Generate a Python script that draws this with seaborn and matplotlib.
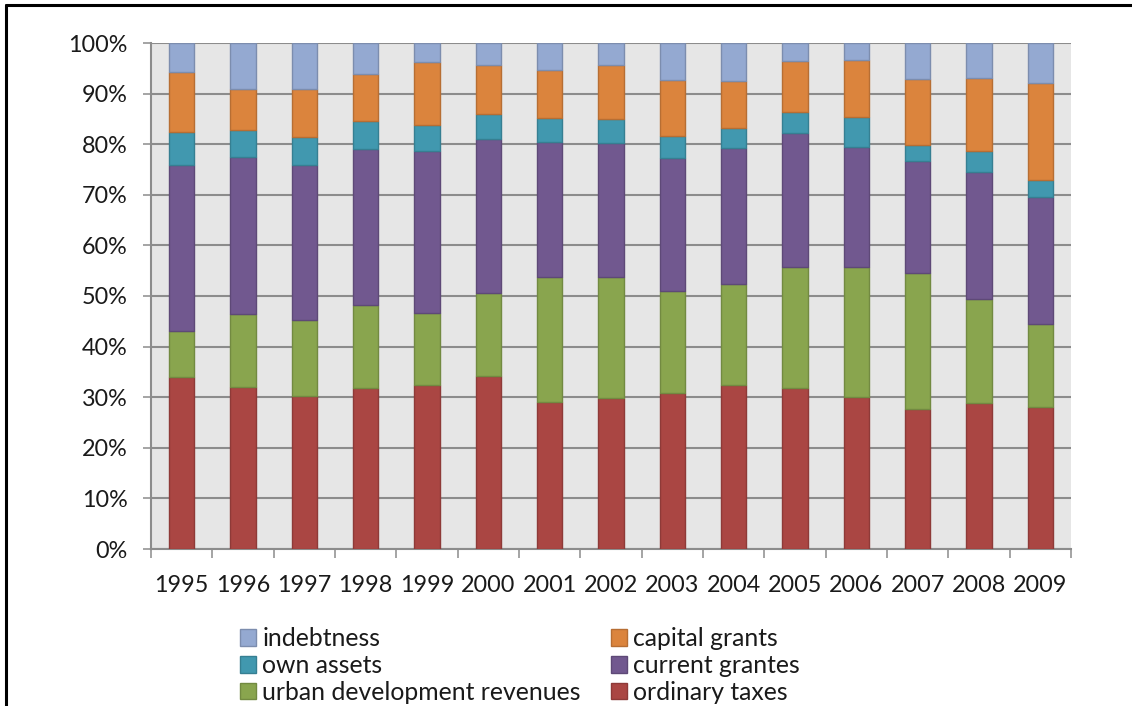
import numpy as np
import pandas as pd
import matplotlib
matplotlib.use("Agg")
import matplotlib.pyplot as plt
import seaborn as sns
from matplotlib.patches import Patch
from matplotlib.lines import Line2D
from matplotlib.ticker import PercentFormatter, FixedLocator

years = ["1995", "1996", "1997", "1998", "1999", "2000", "2001", "2002",
         "2003", "2004", "2005", "2006", "2007", "2008", "2009"]

ordinary_taxes = [33.9, 32.1, 30.3, 31.8, 32.5, 34.1, 29.0, 29.8, 30.8, 32.5, 31.8, 30.0, 27.7, 28.8, 28.0]
urban_development_revenues = [9.2, 14.3, 14.9, 16.4, 14.2, 16.4, 24.8, 24.0, 20.2, 19.8, 24.0, 25.8, 26.8, 20.7, 16.4]
current_grantes = [32.8, 31.0, 30.7, 30.8, 32.0, 30.5, 26.6, 26.4, 26.2, 26.9, 26.4, 23.7, 22.2, 25.1, 25.2]
own_assets = [6.6, 5.5, 5.6, 5.5, 5.0, 5.0, 4.8, 4.8, 4.5, 4.1, 4.1, 5.8, 3.2, 4.1, 3.3]
capital_grants = [11.8, 8.1, 9.5, 9.4, 12.6, 9.7, 9.4, 10.7, 10.9, 9.1, 10.1, 11.3, 12.9, 14.4, 19.2]
indebtness = [5.7, 9.0, 9.0, 6.1, 3.7, 4.3, 5.4, 4.3, 7.4, 7.6, 3.6, 3.4, 7.2, 6.9, 7.9]

series_labels = ["ordinary taxes", "urban development revenues", "current grantes",
                 "own assets", "capital grants", "indebtness"]
series_values = [ordinary_taxes, urban_development_revenues, current_grantes,
                 own_assets, capital_grants, indebtness]
fill_colors = ["#AA4643", "#89A54E", "#71588F", "#4198AF", "#DB843D", "#94A9D1"]
edge_colors = ["#8E3A38", "#728A41", "#5E4977", "#367F92", "#B76E33", "#7C8DAE"]

sns.set_theme(style="white")
plt.rcParams['font.family'] = ['Lato', 'DejaVu Sans']

W, H = 1132, 706
fig = plt.figure(figsize=(W / 100, H / 100), dpi=100)
fig.patch.set_facecolor("white")
ax = fig.add_axes([151 / W, 1 - 549 / H, 920 / W, 506 / H])
ax.set_facecolor("#E6E6E6")

bottom = np.zeros(len(years))
for lab, vals, fc, ec in zip(series_labels, series_values, fill_colors, edge_colors):
    vals = np.asarray(vals, dtype=float)
    sns.barplot(x=years, y=vals, color=fc, edgecolor=ec, linewidth=1.0,
                width=0.41, saturation=1, errorbar=None, bottom=bottom,
                ax=ax, zorder=3)
    bottom = bottom + vals

ax.set_xlim(-0.5, len(years) - 0.5)
ax.set_ylim(0, 100)
ax.set_yticks(np.arange(0, 101, 10))
ax.yaxis.set_major_formatter(PercentFormatter(decimals=0))
ax.yaxis.grid(True, color="#8C8C8C", linewidth=1.5, zorder=0)
ax.xaxis.grid(False)
ax.set_axisbelow(True)
ax.set_xlabel("")
ax.set_ylabel("")

for s in ["top", "right"]:
    ax.spines[s].set_visible(False)
for s in ["left", "bottom"]:
    ax.spines[s].set_color("#8C8C8C")
    ax.spines[s].set_linewidth(1.5)

ax.tick_params(axis="y", which="major", left=True, length=5.8, width=1.1,
               color="#8C8C8C", labelsize=16.8, labelcolor="#1A1A1A", pad=11)
ax.xaxis.set_minor_locator(FixedLocator(np.arange(-0.5, len(years), 1.0)))
ax.tick_params(axis="x", which="major", bottom=True, length=0, labelsize=16.8,
               labelcolor="#1A1A1A", pad=19)
ax.tick_params(axis="x", which="minor", bottom=True, length=6.5, width=1.1,
               color="#8C8C8C")

# legends: two columns
h1 = [Patch(facecolor=fill_colors[i], edgecolor=edge_colors[i]) for i in (5, 3, 1)]
l1 = [series_labels[i] for i in (5, 3, 1)]
h2 = [Patch(facecolor=fill_colors[i], edgecolor=edge_colors[i]) for i in (4, 2, 0)]
l2 = [series_labels[i] for i in (4, 2, 0)]
common = dict(loc="upper left", frameon=False, fontsize=17.8, handlelength=0.65,
              handleheight=0.65, handletextpad=0.25, labelspacing=0.16,
              borderpad=0, borderaxespad=0, labelcolor="#1A1A1A")
leg1 = fig.legend(h1, l1, bbox_to_anchor=(240 / W, 1 - 627 / H), **common)
leg2 = fig.legend(h2, l2, bbox_to_anchor=(611 / W, 1 - 627 / H), **common)

# outer frame (top and left edges)
fig.add_artist(Line2D([6 / W, 6 / W], [0, 1 - 5 / H], transform=fig.transFigure,
                      color="black", linewidth=2.2))
fig.add_artist(Line2D([6 / W, 1], [1 - 5 / H, 1 - 5 / H], transform=fig.transFigure,
                      color="black", linewidth=2.2))

fig.savefig("out.png", dpi=100)
